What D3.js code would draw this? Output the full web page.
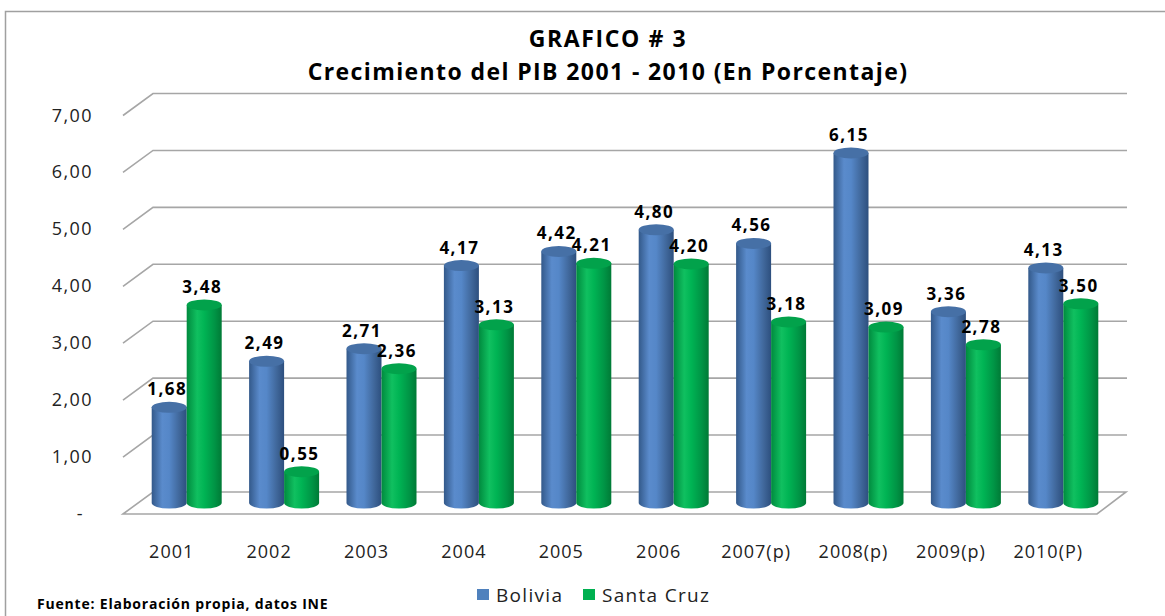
<!DOCTYPE html>
<html>
<head>
<meta charset="utf-8">
<script src="https://cdn.jsdelivr.net/npm/d3@7"></script>
<style>
    body { margin: 0; background: #fff; }
    text { font-family: "Open Sans", "Liberation Sans", sans-serif; }
</style>
</head>
<body>
<div id="chart"></div>
<script>
// Data
const years = ['2001', '2002', '2003', '2004', '2005', '2006', '2007(p)', '2008(p)', '2009(p)', '2010(P)'];
const bolivia = [1.68, 2.49, 2.71, 4.17, 4.42, 4.80, 4.56, 6.15, 3.36, 4.13];
const santaCruz = [3.48, 0.55, 2.36, 3.13, 4.21, 4.20, 3.18, 3.09, 2.78, 3.50];
const seriesNames = ['Bolivia', 'Santa Cruz'];
const yTicks = [0, 1, 2, 3, 4, 5, 6, 7];

const width = 1165, height = 616;
const floorLeft = 123, floorRight = 1097;   // front edge of the floor
const depthX = 30, depthY = 22;             // 3D offset from front to back
const rx = 17.5, ry = 5.5;

const svg = d3.select('#chart').append('svg')
    .attr('width', width)
    .attr('height', height);

// chart frame
svg.append('path')
    .attr('d', `M5.5,${height + 5} V11.5 H${width + 5}`)
    .attr('fill', 'none')
    .attr('stroke', '#a0a0a0')
    .attr('stroke-width', 1.5);

// scales
const x = d3.scaleBand().domain(years).range([floorLeft, floorRight]);
// y gives the back wall position
const y = d3.scaleLinear().domain([0, 7]).range([492, 93.5]);
const fmt = v => d3.format('.2f')(v).replace('.', ',');

// gradients for the cylinders
const defs = svg.append('defs');
const palettes = [
    { id: 'g-blue', stops: ['#33598a', '#5a8bcc', '#5587c8', '#3f6699', '#2d4f7e'], top: '#4670a6' },
    { id: 'g-green', stops: ['#008a3e', '#10c060', '#00b454', '#009445', '#007a36'], top: '#02a24b' }
];
palettes.forEach(p => {
    const lg = defs.append('linearGradient').attr('id', p.id)
        .attr('x1', '0%').attr('x2', '100%').attr('y1', '0%').attr('y2', '0%');
    [0, 0.3, 0.5, 0.8, 1].forEach((o, i) => {
        lg.append('stop').attr('offset', `${o * 100}%`).attr('stop-color', p.stops[i]);
    });
});

// gridlines with their diagonal side
const grid = svg.append('g').attr('class', 'grid');
yTicks.filter(t => t > 0).forEach(t => {
    const yb = y(t);
    grid.append('path')
        .attr('d', `M${floorLeft},${yb + depthY} L${floorLeft + depthX},${yb} H${floorRight + depthX}`)
        .attr('fill', 'none')
        .attr('stroke', '#a6a6a6')
        .attr('stroke-width', 1.6);
});

// floor
svg.append('path')
    .attr('d', `M${floorLeft},${y(0) + depthY} L${floorLeft + depthX},${y(0)} H${floorRight + depthX - 1} L${floorRight},${y(0) + depthY} Z`)
    .attr('fill', '#fff')
    .attr('stroke', '#a6a6a6')
    .attr('stroke-width', 1.6);

// y tick labels
svg.append('g').selectAll('text')
    .data(yTicks)
    .join('text')
    .attr('x', d => d === 0 ? 84 : 93)
    .attr('y', d => y(d) + depthY + 6)
    .attr('text-anchor', 'end')
    .attr('font-size', 18)
    .attr('letter-spacing', 1.4)
    .attr('fill', '#222')
    .text(d => d === 0 ? '-' : fmt(d));

// x labels
svg.append('g').selectAll('text')
    .data(years)
    .join('text')
    .attr('x', d => x(d) + x.bandwidth() / 2)
    .attr('y', 558)
    .attr('text-anchor', 'middle')
    .attr('font-size', 18)
    .attr('letter-spacing', 1)
    .attr('fill', '#222')
    .text(d => d);

// cylinders, drawn at mid depth
const midY = v => y(v) + depthY / 2;
const bars = [];
years.forEach((yr, i) => {
    const c = x(yr) + x.bandwidth() / 2 + depthX / 2;
    bars.push({ cx: c - rx, v: bolivia[i], s: 0 });
    bars.push({ cx: c + rx, v: santaCruz[i], s: 1 });
});

const barG = svg.append('g');
bars.forEach(d => {
    const p = palettes[d.s];
    const y0 = midY(0), y1 = midY(d.v);
    const g = barG.append('g');
    g.append('path')
        .attr('d', `M${d.cx - rx},${y1} V${y0} A${rx},${ry} 0 0 0 ${d.cx + rx},${y0} V${y1} Z`)
        .attr('fill', `url(#${p.id})`);
    g.append('ellipse')
        .attr('cx', d.cx)
        .attr('cy', y1)
        .attr('rx', rx)
        .attr('ry', ry)
        .attr('fill', p.top);
});

// value labels
svg.append('g').selectAll('text')
    .data(bars)
    .join('text')
    .attr('x', d => d.cx - 2)
    .attr('y', d => midY(d.v) - 12)
    .attr('text-anchor', 'middle')
    .attr('font-size', 17)
    .attr('font-weight', 'bold')
    .attr('letter-spacing', 1.5)
    .attr('fill', '#000')
    .text(d => fmt(d.v));

// title
const title = svg.append('g').attr('font-weight', 'bold').attr('fill', '#000').attr('text-anchor', 'middle');
title.append('text').attr('x', 608).attr('y', 47).attr('font-size', 23).attr('letter-spacing', 1.6).text('GRAFICO # 3');
title.append('text').attr('x', 608).attr('y', 80).attr('font-size', 23).attr('letter-spacing', 1.4).text('Crecimiento del PIB 2001  - 2010 (En Porcentaje)');

// legend
const legend = svg.append('g').attr('transform', 'translate(477,589)');
const legendX = [0, 106];
seriesNames.forEach((name, i) => {
    legend.append('rect')
        .attr('x', legendX[i])
        .attr('y', 0)
        .attr('width', 12)
        .attr('height', 11)
        .attr('fill', i === 0 ? '#4f81bd' : '#00b050');
    legend.append('text')
        .attr('x', legendX[i] + 19)
        .attr('y', 13)
        .attr('font-size', 19)
        .attr('letter-spacing', 1.3)
        .attr('fill', '#222')
        .text(name);
});

// source note
svg.append('text')
    .attr('x', 37)
    .attr('y', 609)
    .attr('font-size', 14)
    .attr('font-weight', 'bold')
    .attr('letter-spacing', 0.8)
    .attr('fill', '#000')
    .text('Fuente: Elaboración propia, datos INE');
</script>
</body>
</html>
